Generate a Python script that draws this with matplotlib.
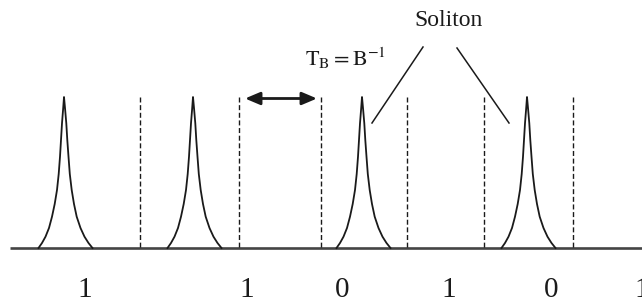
import matplotlib
matplotlib.use("Agg")
import matplotlib.pyplot as plt
import numpy as np

plt.rcParams['mathtext.fontset'] = 'stix'

# --- data (pixel-like coordinates) ---
pulse_centers = [64, 193, 362, 527]
pulse_base = 248
# pulse profile: height above baseline vs offset
profile_heights = [0, 5, 11.3, 20, 31.3, 44, 58, 74, 91.3, 108, 124.7, 140, 151]
profile_left = [-25.5, -22, -18.5, -15, -12, -9.3, -7, -5.3, -4, -3, -2, -0.8, 0]
profile_right = [28.5, 24.5, 20.5, 16.5, 12.7, 10, 7.7, 5.8, 4.5, 3.3, 2.3, 1.0, 0]

slot_boundaries = [140, 239, 321, 407, 484, 573]
boundary_top = 97

bit_labels = ['1', '1', '0', '1', '0', '1']
bit_label_x = [85, 247, 342, 449, 551, 642]
bit_label_y = 290

baseline_x = [10, 642]

arrow_x = [245, 317]
arrow_y = 98.5

tb_text = r'$\mathrm{T_B = B^{-1}}$'
tb_pos = (345, 58)

soliton_text = 'Soliton'
soliton_pos = (448, 20)
soliton_lines = [((372, 123), (423, 47)), ((457, 48), (509, 123))]

# --- figure ---
fig = plt.figure(figsize=(6.42, 3.07), dpi=100)
ax = fig.add_axes([0, 0, 1, 1])
ax.set_xlim(0, 642)
ax.set_ylim(307, 0)
ax.axis('off')

ink = '#1a1a1a'

# baseline
ax.plot(baseline_x, [pulse_base, pulse_base], color='#444444', lw=1.9,
        solid_capstyle='butt', zorder=2)

# pulses
off = np.array(profile_left + profile_right[::-1][1:])
hts = np.array(profile_heights + profile_heights[::-1][1:])
for c in pulse_centers:
    ax.plot(c + off, pulse_base - hts, color=ink, lw=1.3,
            solid_joinstyle='round', zorder=3)

# dashed slot boundaries
for x in slot_boundaries:
    ax.plot([x, x], [boundary_top, pulse_base], color=ink, lw=1.0,
            dashes=(3.6, 1.9), zorder=2)

# double arrow
ax.annotate('', xy=(arrow_x[0], arrow_y), xytext=(arrow_x[1], arrow_y),
            arrowprops=dict(arrowstyle='<|-|>,head_length=0.9,head_width=0.38',
                            color=ink, lw=2.0, shrinkA=0, shrinkB=0))

# texts
ax.text(tb_pos[0], tb_pos[1], tb_text, fontsize=16, ha='center', va='center',
        color=ink)
ax.text(soliton_pos[0], soliton_pos[1], soliton_text, fontsize=17,
        family='Liberation Serif', ha='center', va='center', color=ink)
for (p0, p1) in soliton_lines:
    ax.plot([p0[0], p1[0]], [p0[1], p1[1]], color=ink, lw=1.1)

for lab, x in zip(bit_labels, bit_label_x):
    ax.text(x, bit_label_y, lab, fontsize=21, family='Liberation Serif',
            ha='center', va='center', color=ink)

fig.savefig('out.png', dpi=100)
